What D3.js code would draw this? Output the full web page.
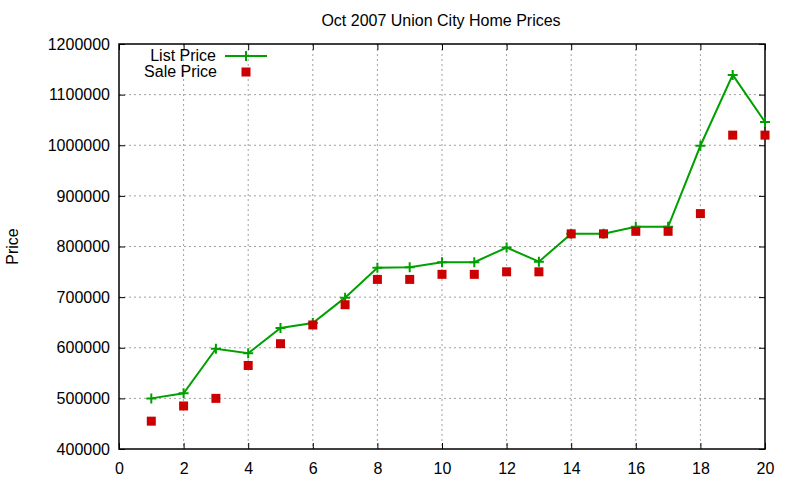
<!DOCTYPE html>
<html>
<head>
<meta charset="utf-8">
<script src="https://d3js.org/d3.v7.min.js"></script>
<style>
  body { margin: 0; background: #fff; }
  text { font-family: "Liberation Sans", Arial, sans-serif; }
</style>
</head>
<body>
<script>
// data
const houses = d3.range(1, 21);
const listPrice = [500000, 510000, 598000, 589000, 639000, 649000, 699000, 758000, 759000, 769000,
                   769000, 798000, 770000, 825000, 825000, 839000, 839000, 999000, 1139000, 1046000];
const salePrice = [455000, 485000, 500000, 565000, 608000, 645000, 685000, 735000, 735000, 745000,
                   745000, 750000, 750000, 825000, 825000, 830000, 830000, 865000, 1020000, 1020000];
const xTicks = d3.range(0, 21, 2);
const yTicks = d3.range(400000, 1200001, 100000);

const W = 800, H = 480;
const m = { left: 119, right: 35, top: 44, bottom: 31 };

const svg = d3.select('body').append('svg')
  .attr('width', W)
  .attr('height', H);

const x = d3.scaleLinear().domain([0, 20]).range([m.left, W - m.right]);
const y = d3.scaleLinear().domain([400000, 1200000]).range([H - m.bottom, m.top]);

// grid
svg.append('g').selectAll('line')
  .data(xTicks.slice(1, -1))
  .join('line')
  .attr('x1', d => x(d)).attr('x2', d => x(d))
  .attr('y1', m.top).attr('y2', H - m.bottom)
  .attr('stroke', '#a0a0a0').attr('stroke-dasharray', '2,3');

svg.append('g').selectAll('line')
  .data(yTicks.slice(1, -1))
  .join('line')
  .attr('x1', m.left).attr('x2', W - m.right)
  .attr('y1', d => y(d)).attr('y2', d => y(d))
  .attr('stroke', '#a0a0a0').attr('stroke-dasharray', '2,3');

// axes, ticks pointing inward, mirrored
const xAxis = d3.axisBottom(x).tickValues(xTicks).tickSizeInner(-6).tickSizeOuter(0).tickPadding(14);
const yAxis = d3.axisLeft(y).tickValues(yTicks).tickFormat(d3.format('d'))
  .tickSizeInner(-6).tickSizeOuter(0).tickPadding(9);

svg.append('g')
  .attr('transform', `translate(0, ${H - m.bottom})`)
  .call(xAxis);
svg.append('g')
  .attr('transform', `translate(${m.left}, 0)`)
  .call(yAxis);
svg.append('g')
  .attr('transform', `translate(0, ${m.top})`)
  .call(d3.axisTop(x).tickValues(xTicks).tickSizeInner(-6).tickSizeOuter(0).tickFormat(''));
svg.append('g')
  .attr('transform', `translate(${W - m.right}, 0)`)
  .call(d3.axisRight(y).tickValues(yTicks).tickSizeInner(-6).tickSizeOuter(0).tickFormat(''));

svg.selectAll('.tick text')
  .attr('font-size', 16)
  .attr('font-family', '"Liberation Sans", Arial, sans-serif')
  .attr('fill', '#000');
svg.selectAll('.tick line').attr('stroke', '#000');
svg.selectAll('.domain').remove();

svg.append('rect')
  .attr('x', m.left).attr('y', m.top)
  .attr('width', W - m.left - m.right)
  .attr('height', H - m.top - m.bottom)
  .attr('fill', 'none').attr('stroke', '#000').attr('stroke-width', 1.5);

// title and y label
svg.append('text')
  .attr('x', 441).attr('y', 26)
  .attr('text-anchor', 'middle')
  .attr('font-size', 16)
  .text('Oct 2007 Union City Home Prices');

svg.append('text')
  .attr('transform', `translate(18, ${(m.top + H - m.bottom) / 2}) rotate(-90)`)
  .attr('text-anchor', 'middle')
  .attr('font-size', 16)
  .text('Price');

// list price line
const green = '#00a000';
const red = '#cc0000';

const line = d3.line()
  .x((d, i) => x(houses[i]))
  .y(d => y(d));

svg.append('path')
  .datum(listPrice)
  .attr('d', line)
  .attr('fill', 'none')
  .attr('stroke', green)
  .attr('stroke-width', 2);

const plus = (g, cx, cy) => g.append('path')
  .attr('d', `M${cx - 5},${cy}H${cx + 5}M${cx},${cy - 5}V${cy + 5}`)
  .attr('stroke', green).attr('stroke-width', 2);

const pts = svg.append('g');
listPrice.forEach((d, i) => plus(pts, x(houses[i]), y(d)));

// sale price squares
svg.append('g').selectAll('rect')
  .data(salePrice)
  .join('rect')
  .attr('x', (d, i) => x(houses[i]) - 4.5)
  .attr('y', d => y(d) - 4.5)
  .attr('width', 9).attr('height', 9)
  .attr('fill', red);

// legend
const lg = svg.append('g').attr('font-size', 16);
lg.append('text').attr('x', 216).attr('y', 61).attr('text-anchor', 'end').text('List Price');
lg.append('line').attr('x1', 225).attr('x2', 267).attr('y1', 56).attr('y2', 56)
  .attr('stroke', green).attr('stroke-width', 2);
plus(lg, 246, 56);
lg.append('text').attr('x', 217).attr('y', 77).attr('text-anchor', 'end').text('Sale Price');
lg.append('rect').attr('x', 241.5).attr('y', 67.5).attr('width', 9).attr('height', 9).attr('fill', red);
</script>
</body>
</html>
